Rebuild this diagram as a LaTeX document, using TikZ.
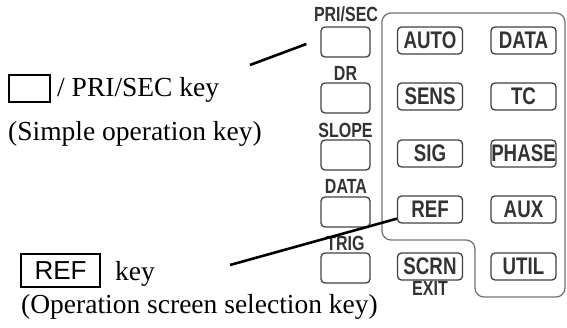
\documentclass[tikz,border=0pt]{standalone}
\usepackage{fontspec}
\setmainfont{Liberation Serif}
\setsansfont{Liberation Sans}
\newfontfamily\keyfont[FakeStretch=0.78]{Liberation Sans}
\usetikzlibrary{positioning}

\begin{document}
\begin{tikzpicture}[x=1pt, y=-1pt,
  font=\fontsize{27.5}{32}\selectfont,
  sidekey/.style={draw=black!75, line width=1.3pt, rounded corners=4pt,
                  minimum width=49pt, minimum height=30pt, inner sep=0pt},
  panelkey/.style={draw=black!75, line width=1.3pt, rounded corners=4pt,
                   minimum width=65pt, minimum height=27pt, inner sep=0pt,
                   text=black!80, font=\keyfont\bfseries\fontsize{24}{24}\selectfont},
  keylbl/.style={anchor=base, inner sep=0pt, text=black!80,
                 font=\keyfont\bfseries\fontsize{20.5}{20.5}\selectfont},
  note/.style={anchor=base west, inner sep=0pt},
  callout/.style={line width=2.6pt, black}
]
\useasboundingbox (0,0) rectangle (567,327);

% panel frame round the main keys
\draw[black!55, line width=1.3pt, rounded corners=9pt]
  (382,13) -- (565,13) -- (565,297) -- (475,297) -- (475,240) -- (382,240) -- cycle;

% left column
\node[sidekey] (prisec) at (345.5,42) {};
\node[sidekey] (dr)     at (345.5,98) {};
\node[sidekey] (slope)  at (345.5,155) {};
\node[sidekey] (datal)  at (345.5,212) {};
\node[sidekey] (trig)   at (345.5,268) {};
\node[keylbl] (lprisec) at (346,21)  {PRI/SEC};
\node[keylbl] (ldr)     at (345.5,80)  {DR};
\node[keylbl] (lslope)  at (345.5,137) {SLOPE};
\node[keylbl] (ldata)   at (346,193) {DATA};
\node[keylbl] (ltrig)   at (345.5,250) {TRIG};

% main keys
\node[panelkey] (auto)  at (430,40.5)    {AUTO};
\node[panelkey] (datar) at (523.5,40.5)  {DATA};
\node[panelkey] (sens)  at (430,96.5)    {SENS};
\node[panelkey] (tc)    at (523.5,96.5)  {TC};
\node[panelkey] (sig)   at (430,153.5)   {SIG};
\node[panelkey] (phase) at (523.5,153.5) {PHASE};
\node[panelkey] (ref)   at (430,209.5)   {REF};
\node[panelkey] (aux)   at (523.5,209.5) {AUX};
\node[panelkey] (scrn)  at (430,266.5)   {SCRN};
\node[panelkey] (util)  at (523.5,266.5) {UTIL};
\node[keylbl, below=0.5pt of scrn] (lexit) {EXIT};

% notes
\node[draw, line width=1.5pt, minimum width=41pt, minimum height=27pt,
      inner sep=0pt] (blank) at (29.5,88.5) {};
\node[note] (n1) at (57,96) {/ PRI/SEC key};
\node[note] (n2) at (8,140) {(Simple operation key)};
\node[draw, line width=1.5pt, minimum width=79pt, minimum height=33pt,
      inner sep=0pt, font=\sffamily\fontsize{26}{26}\selectfont] (refbox)
      at (60.5,270.5) {REF};
\node[note] (n3) at (115,280) {key};
\node[note] (n4) at (21,313) {(Operation screen selection key)};

% leader lines
\coordinate (c1) at (250,65);
\coordinate (c2) at (230,265);
\draw[callout] (c1) -- ([xshift=-14pt, yshift=-2pt]prisec.west);
\draw[callout] (c2) -- ([yshift=5pt]ref.south west);
\end{tikzpicture}
\end{document}
